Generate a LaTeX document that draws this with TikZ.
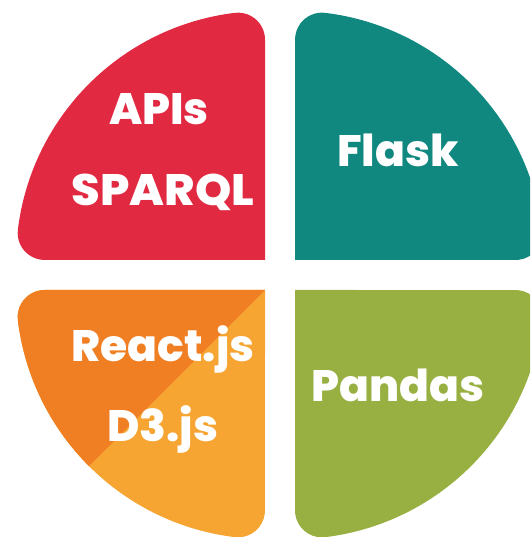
\documentclass[tikz,border=0pt]{standalone}
\usepackage{fontspec}
\newfontfamily\popfont{Poppins ExtraBold}
\definecolor{qred}{HTML}{E12A42}
\definecolor{qteal}{HTML}{108880}
\definecolor{qgreen}{HTML}{98B042}
\definecolor{qorangedark}{HTML}{F07F24}
\definecolor{qorangelight}{HTML}{F6A532}
% quarter disc (radius 249) with its two outer corners rounded (radius 27)
\newcommand\quadshape{(0,0) -- (220.35,0)
  arc[start angle=-90, end angle=6.99, radius=27]
  arc[start angle=6.99, end angle=83.01, radius=249]
  arc[start angle=83.01, end angle=180, radius=27] -- cycle}
\tikzset{
  lbl/.style={anchor=base, inner sep=0pt, text=white,
    font=\popfont\fontsize{44}{48}\selectfont}
}
\begin{document}
\begin{tikzpicture}[x=1pt,y=1pt]
\useasboundingbox (0,0) rectangle (530,537);
\clip (0,0) rectangle (530,537);
% top left
\begin{scope}[shift={(265,277)}, rotate=90]
  \fill[qred] \quadshape;
\end{scope}
% top right
\begin{scope}[shift={(295,277)}]
  \fill[qteal] \quadshape;
\end{scope}
% bottom left, split along the diagonal
\begin{scope}[shift={(265,247)}, rotate=180]
  \fill[qorangelight] \quadshape;
  \begin{scope}
    \clip \quadshape;
    \fill[qorangedark] (0,0) -- (300,0) -- (300,300) -- cycle;
  \end{scope}
\end{scope}
% bottom right
\begin{scope}[shift={(295,247)}, rotate=270]
  \fill[qgreen] \quadshape;
\end{scope}
% labels
\node[lbl] (apis) at (159,412) {APIs};
\node[lbl, xscale=1.05, transform shape] (sparql) at (163,331) {SPARQL};
\node[lbl] (flask) at (398,370) {Flask};
\node[lbl] (react) at (163,175) {React.js};
\node[lbl] (d3) at (163,95) {D3.js};
\node[lbl] (pandas) at (398,135) {Pandas};
\end{tikzpicture}
\end{document}
